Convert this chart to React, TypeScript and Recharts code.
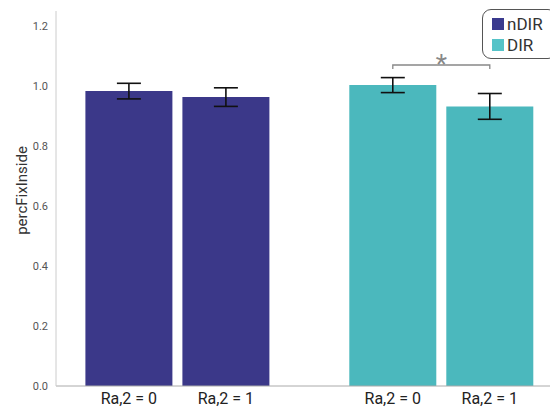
import React from 'react';
import { BarChart, Bar, XAxis, YAxis, ErrorBar, Cell, Legend, LabelList } from 'recharts';

const groups = ['nDIR', 'DIR'];
const ra0Values = [0.983, 1.003];
const ra1Values = [0.963, 0.932];
const ra0Errors = [0.026, 0.025];
const ra1Errors = [0.031, 0.043];
const barLabels = ['Ra,2 = 0', 'Ra,2 = 1'];
const yTicks = [0, 0.2, 0.4, 0.6, 0.8, 1.0, 1.2];
const sigLevel = 1.07;
const sigText = '*';

const barColors = ['#3b3889', '#4bb8bd'];
const legendColors = ['#3a3a8e', '#55c3c8'];

const data = groups.map((g, i) => ({
  group: g,
  ra0: ra0Values[i],
  ra1: ra1Values[i],
  ra0Err: ra0Errors[i],
  ra1Err: ra1Errors[i],
}));

const FONT = 'Roboto, "Noto Sans", sans-serif';
const BAR_SIZE = 87;
const BAR_GAP = 10;

const XTick = (props: any) => {
  const { x, y } = props;
  const off = (BAR_SIZE + BAR_GAP) / 2;
  return (
    <g>
      {barLabels.map((l, i) => (
        <text
          key={i}
          x={x + (i === 0 ? -off : off)}
          y={y + 10}
          textAnchor="middle"
          fontSize={16}
          fontFamily={FONT}
          fill="#222"
        >
          {l}
        </text>
      ))}
    </g>
  );
};

const YLabel = (props: any) => {
  const vb = props.viewBox || {};
  const cx = (vb.x || 0) + 14;
  const cy = (vb.y || 0) + (vb.height || 0) / 2 - 8;
  return (
    <text
      x={cx}
      y={cy}
      transform={`rotate(-90 ${cx} ${cy})`}
      textAnchor="middle"
      dominantBaseline="central"
      fontSize={15}
      fontFamily={FONT}
      fill="#333"
    >
      percFixInside
    </text>
  );
};

const Bracket = (props: any) => {
  const { index } = props;
  if (index !== 1) return null;
  const vb = props.viewBox || props;
  const x = Number(vb.x ?? props.x);
  const y = Number(vb.y ?? props.y);
  const w = Number(vb.width ?? props.width);
  const h = Number(vb.height ?? props.height);
  const v = ra0Values[1];
  const zeroY = y + h;
  const ppu = h / v;
  const by = zeroY - sigLevel * ppu;
  const x1 = x + w / 2;
  const x2 = x1 + w + BAR_GAP;
  return (
    <g>
      <path
        d={`M${x1},${by + 4} L${x1},${by} L${x2},${by} L${x2},${by + 4}`}
        fill="none"
        stroke="#888"
        strokeWidth={1.3}
      />
      <text
        x={(x1 + x2) / 2}
        y={by + 8}
        textAnchor="middle"
        fontSize={26}
        fontFamily={FONT}
        fill="#888"
      >
        {sigText}
      </text>
    </g>
  );
};

const LegendBox = () => (
  <div
    style={{
      width: 73,
      height: 48,
      border: '1px solid #555',
      borderRadius: 9,
      background: '#fff',
      fontFamily: FONT,
      fontSize: 17,
      color: '#333',
      boxSizing: 'content-box',
    }}
  >
    {groups.map((g, i) => (
      <div
        key={g}
        style={{
          display: 'flex',
          alignItems: 'center',
          height: 20,
          marginTop: i === 0 ? 4 : 1,
          marginLeft: 9,
        }}
      >
        <span
          style={{
            display: 'inline-block',
            width: 12,
            height: 12,
            background: legendColors[i],
            marginRight: 3,
          }}
        />
        <span>{g}</span>
      </div>
    ))}
  </div>
);

export default function App() {
  return (
    <div style={{ width: 550, height: 401, position: 'relative' }}>
      <BarChart
        width={550}
        height={401}
        data={data}
        margin={{ top: 3, right: 0, bottom: 0, left: 0 }}
        barSize={BAR_SIZE}
        barGap={BAR_GAP}
      >
        <XAxis
          dataKey="group"
          tickLine={false}
          axisLine={{ stroke: '#aaa' }}
          tick={<XTick />}
          height={23}
          padding={{ left: -10.6, right: -15.2 }}
          interval={0}
        />
        <YAxis
          domain={[0, 1.25]}
          ticks={yTicks}
          tickFormatter={(v: number) => v.toFixed(1)}
          tick={{ fontSize: 11, fill: '#555', fontFamily: FONT }}
          tickLine={false}
          axisLine={{ stroke: '#ccc' }}
          width={48}
          label={<YLabel />}
          allowDataOverflow
        />
        <Legend
          layout="horizontal"
          verticalAlign="middle"
          align="center"
          content={() => <LegendBox />}
          wrapperStyle={{ top: 1, left: 474, width: 'auto', height: 'auto' }}
        />
        <Bar dataKey="ra0" isAnimationActive={false}>
          {data.map((d, i) => (
            <Cell key={d.group} fill={barColors[i]} />
          ))}
          <ErrorBar dataKey="ra0Err" width={12} stroke="#111" strokeWidth={1.6} direction="y" />
          <LabelList dataKey="ra0" content={<Bracket />} />
        </Bar>
        <Bar dataKey="ra1" isAnimationActive={false}>
          {data.map((d, i) => (
            <Cell key={d.group} fill={barColors[i]} />
          ))}
          <ErrorBar dataKey="ra1Err" width={12} stroke="#111" strokeWidth={1.6} direction="y" />
        </Bar>
      </BarChart>
    </div>
  );
}
